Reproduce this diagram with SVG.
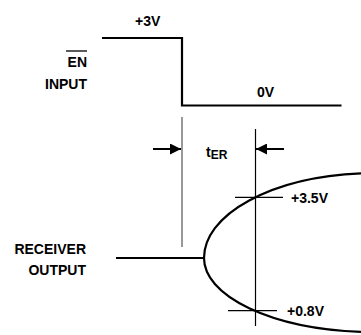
<svg xmlns="http://www.w3.org/2000/svg" width="361" height="335" viewBox="0 0 361 335">
<style>
text{font-family:"Liberation Sans",Arial,sans-serif;font-weight:bold;font-size:14px;fill:#000}
.w{fill:none;stroke:#000;stroke-width:2.2}
.t{fill:none;stroke:#000;stroke-width:1.2}
</style>
<defs>
<marker id="ah" viewBox="0 0 10 10" refX="10" refY="5" markerWidth="17" markerHeight="11" markerUnits="userSpaceOnUse" orient="auto">
<path d="M0,0 L10,5 L0,10 Z" fill="#000"/>
</marker>
</defs>
<rect width="361" height="335" fill="#fff"/>
<g id="en-input">
<text x="87" y="67" text-anchor="end">EN</text>
<line x1="66" y1="51" x2="87" y2="51" stroke="#000" stroke-width="1.3"/>
<text x="87" y="89" text-anchor="end">INPUT</text>
<text x="135" y="26">+3V</text>
<text x="257" y="97">0V</text>
<path class="w" d="M102,38 H182 V105.5 H341.5"/>
</g>
<g id="receiver-output">
<text x="86" y="254" text-anchor="end">RECEIVER</text>
<text x="86" y="275" text-anchor="end">OUTPUT</text>
<path class="w" d="M116,258 H204"/>
<path class="w" d="M361,173.3 A171 85 0 0 0 204 258 A171 74 0 0 0 361 331.8"/>
<text x="291" y="203">+3.5V</text>
<text x="287" y="316">+0.8V</text>
</g>
<g id="connectors">
<line x1="182" y1="117" x2="182" y2="247" stroke="#555" stroke-width="1.2"/>
<line class="t" x1="255.5" y1="129" x2="255.5" y2="326"/>
<line class="t" x1="235" y1="197.3" x2="283" y2="197.3"/>
<line class="t" x1="228" y1="310.7" x2="277" y2="310.7"/>
<line x1="153" y1="149" x2="181" y2="149" stroke="#000" stroke-width="2" marker-end="url(#ah)"/>
<line x1="284" y1="149" x2="256" y2="149" stroke="#000" stroke-width="2" marker-end="url(#ah)"/>
</g>
<g id="ter-label">
<text x="206" y="157" font-size="16">t<tspan font-size="12" dy="2">ER</tspan></text>
</g>
</svg>
